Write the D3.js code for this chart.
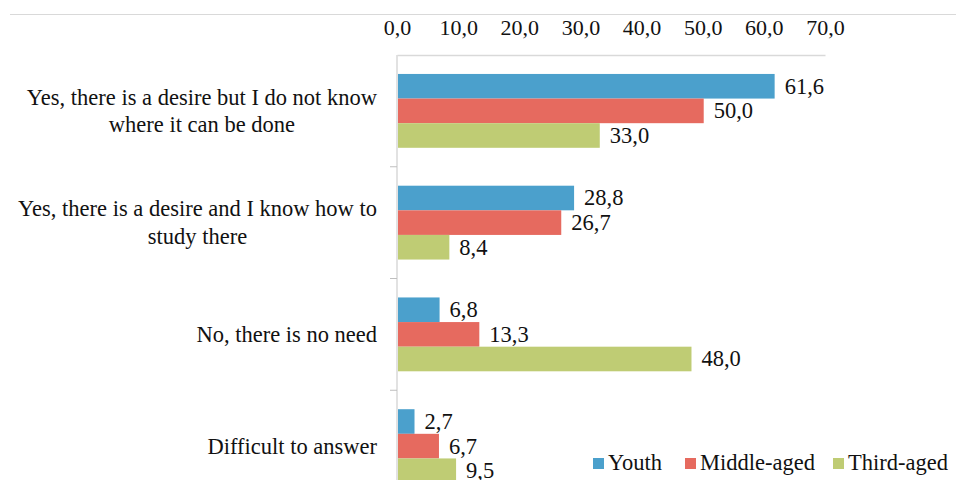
<!DOCTYPE html>
<html><head><meta charset="utf-8">
<script src="https://cdn.jsdelivr.net/npm/d3@7"></script>
<style>body{margin:0;background:#fff;}</style></head>
<body><svg id="c" width="956" height="480"></svg>
<script>
const categories = [
  ["Yes, there is a desire but I do not know", "where it can be done"],
  ["Yes, there is a desire and I know how to", "study there"],
  ["No, there is no need"],
  ["Difficult to answer"]
];
const seriesNames = ["Youth", "Middle-aged", "Third-aged"];
const youth = [61.6, 28.8, 6.8, 2.7];
const middleAged = [50.0, 26.7, 13.3, 6.7];
const thirdAged = [33.0, 8.4, 48.0, 9.5];
const tickValues = [0, 10, 20, 30, 40, 50, 60, 70];
const colors = ["#4ba0cc", "#e66a5f", "#bfcc74"];
const seriesValues = [youth, middleAged, thirdAged];

const FONT = "'Liberation Serif', Tinos, 'Times New Roman', serif";
const svg = d3.select("#c");
const fmt = v => v.toFixed(1).replace(".", ",");
const styleText = (sel, size) => sel.style("font-family", FONT).style("font-size", size + "px").style("fill", "#111");

svg.append("line").attr("x1", 10).attr("x2", 956).attr("y1", 14.5).attr("y2", 14.5)
  .attr("stroke", "#d9d9d9").attr("stroke-width", 1);

const x = d3.scaleLinear().domain([0, 70]).range([397, 825]);
const y = d3.scaleBand().domain(d3.range(categories.length)).range([55, 502]).padding(0);
const inner = d3.scaleBand().domain(d3.range(3)).range([0, y.bandwidth()]).paddingOuter(0.77).paddingInner(0);

const xAxis = d3.axisTop(x).tickValues(tickValues).tickFormat(fmt).tickSize(0).tickPadding(0);
const gx = svg.append("g").attr("transform", "translate(0,55)").call(xAxis);
gx.select(".domain").attr("stroke", "#d9d9d9").attr("stroke-width", 1.5);
styleText(gx.selectAll("text").attr("y", -20).attr("dy", 0), 22);

svg.append("line").attr("x1", 397).attr("x2", 397).attr("y1", 55).attr("y2", 480)
  .attr("stroke", "#d9d9d9").attr("stroke-width", 1.5);
const boundaries = d3.range(1, categories.length).map(i => y(i));
svg.selectAll(".ctick").data(boundaries).enter().append("line")
  .attr("x1", 390).attr("x2", 397).attr("y1", d => d).attr("y2", d => d)
  .attr("stroke", "#bfbfbf").attr("stroke-width", 1);

seriesValues.forEach((vals, s) => {
  const g = svg.append("g");
  g.selectAll("rect").data(vals).enter().append("rect")
    .attr("x", x(0) + 1)
    .attr("y", (d, i) => y(i) + inner(s))
    .attr("width", d => x(d) - x(0))
    .attr("height", inner.bandwidth())
    .attr("fill", colors[s]);
  styleText(g.selectAll("text").data(vals).enter().append("text")
    .attr("x", d => x(d) + 11)
    .attr("y", (d, i) => y(i) + inner(s) + inner.bandwidth() / 2)
    .attr("dy", "0.33em")
    .text(fmt), 22.5);
});

// category labels: text block right-aligned at 377, lines centred within block
const labelRight = 377;
categories.forEach((lines, i) => {
  const cy = y(i) + y.bandwidth() / 2;
  const t = styleText(svg.append("text").attr("text-anchor", "middle"), 22.5);
  const spans = lines.map((ln, k) => t.append("tspan")
      .attr("y", cy + (k - (lines.length - 1) / 2) * 27.5)
      .attr("dy", "0.33em").text(ln));
  const maxW = d3.max(spans, sp => sp.node().getComputedTextLength());
  spans.forEach(sp => sp.attr("x", labelRight - maxW / 2));
});

const legendSq = [593, 685, 833];
seriesNames.forEach((n, s) => {
  svg.append("rect").attr("x", legendSq[s]).attr("y", 458).attr("width", 11).attr("height", 11)
    .attr("fill", colors[s]);
  styleText(svg.append("text").attr("x", legendSq[s] + 15).attr("y", 470).text(n), 22.5);
});
</script></body></html>
